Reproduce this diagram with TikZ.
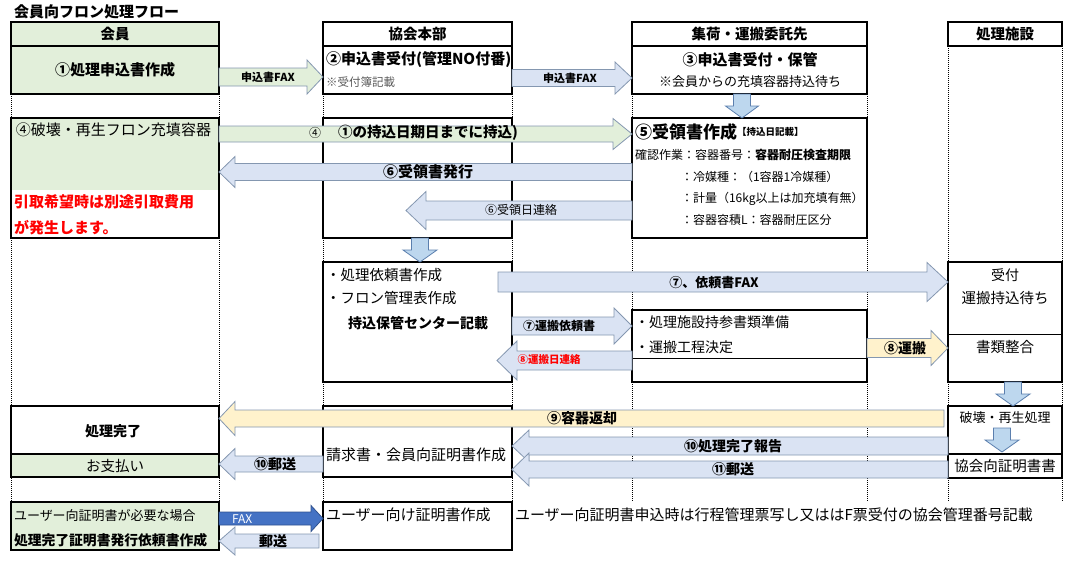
\documentclass[tikz,border=0pt]{standalone}
\usepackage{fontspec}
\setmainfont{Noto Sans CJK JP}
\usetikzlibrary{calc}
\definecolor{kgreen}{HTML}{E2EFDA}
\definecolor{ablue}{HTML}{DAE3F3}
\definecolor{aline}{HTML}{8497B0}
\definecolor{dblue}{HTML}{BDD7EE}
\definecolor{dline}{HTML}{5B7FAE}
\definecolor{ayellow}{HTML}{FFF2CC}
\definecolor{faxblue}{HTML}{4472C4}
\definecolor{faxline}{HTML}{2F528F}
\definecolor{warnred}{HTML}{FF0000}
\definecolor{notegray}{HTML}{595959}
\tikzset{
box/.style={draw, line width=1.6pt, inner sep=0pt, outer sep=0pt, anchor=north west},
lane/.style={line width=.8pt, dash pattern=on 1pt off 1pt},
sep/.style={line width=.8pt},
txt/.style={inner sep=0pt, outer sep=0pt},
barrow/.style={draw=aline, fill=ablue, line width=.8pt},
garrow/.style={barrow, fill=kgreen},
yarrow/.style={barrow, fill=ayellow},
darrow/.style={draw=dline, fill=dblue, line width=.8pt},
farrow/.style={draw=faxline, fill=faxblue, line width=.8pt}
}
\newcommand{\fsz}[1]{\fontsize{#1}{#1}\selectfont}
% box: name, x1, y1, x2, y2
\newcommand{\boxat}[6][]{\node[box,#1,minimum width={#5-#3},minimum height={#6-#4}] (#2) at (#3,#4) {};}
% block arrows: style, tail, tip, y (or x), body half, head half, head length
\newcommand{\hblk}[7]{\draw[#1] let \p1=(#2), \p2=(#3), \p3=(0,#4), \n1={ifthenelse(\x2>\x1,#7,-#7)} in
  (\x1,\y3+#5) -- (\x2-\n1,\y3+#5) -- (\x2-\n1,\y3+#6) -- (\x2,\y3) -- (\x2-\n1,\y3-#6) -- (\x2-\n1,\y3-#5) -- (\x1,\y3-#5) -- cycle;}
\newcommand{\vblk}[7]{\draw[#1] let \p1=(#2), \p2=(#3), \p3=(#4,0), \n1={ifthenelse(\y2>\y1,#7,-#7)} in
  (\x3+#5,\y1) -- (\x3+#5,\y2-\n1) -- (\x3+#6,\y2-\n1) -- (\x3,\y2) -- (\x3-#6,\y2-\n1) -- (\x3-#5,\y2-\n1) -- (\x3-#5,\y1) -- cycle;}

\begin{document}
\begin{tikzpicture}[x=1pt,y=-1pt]
\useasboundingbox (0,0) rectangle (1071,560);
\node[txt,anchor=west,font=\fsz{15}\bfseries] (title) at (14,12) {会員向フロン処理フロー};

% lane heads
\boxat[fill=kgreen]{kaiH}{11}{22}{219}{46}
\boxat{kyoH}{323}{22}{512}{46}
\boxat{shuH}{632}{22}{867}{46}
\boxat{shiH}{948}{22}{1062}{46}
\draw[lane] (kaiH.south west) -- ++(0,456) (kaiH.south east) -- ++(0,456)
  (kyoH.south west) -- ++(0,456) (kyoH.south east) -- ++(0,456)
  (shuH.south west) -- ++(0,456) (shuH.south east) -- ++(0,456)
  (shiH.south west) -- ++(0,456) (shiH.south east) -- ++(0,456);

% boxes
\fill[kgreen] (11,118) rectangle (219,190);
\fill[kgreen] (11,454) rectangle (219,477);
\boxat[fill=kgreen]{kai1}{11}{46}{219}{94}
\boxat{kai2}{11}{118}{219}{238}
\boxat{kai3}{11}{406}{219}{477}
\boxat[fill=kgreen]{kai4}{11}{502}{219}{550}
\boxat{kyo1}{323}{46}{512}{94}
\boxat{kyo2}{323}{118}{512}{238}
\boxat{kyo3}{323}{262}{512}{382}
\boxat{kyo4}{323}{406}{512}{477}
\boxat{kyo5}{323}{502}{512}{550}
\boxat{shu1}{632}{46}{867}{94}
\boxat{shu2}{632}{118}{867}{238}
\boxat{shu3}{632}{310}{867}{382}
\boxat{shi1}{948}{262}{1062}{382}
\boxat{shi2}{948}{406}{1062}{478}
\draw[sep] ($(shu3.north west)+(0,48)$) -- ($(shu3.north east)+(0,48)$);
\draw[sep] ($(shi1.north west)+(0,72)$) -- ($(shi1.north east)+(0,72)$);
\draw[box] ($(shi2.north west)+(0,48)$) -- ($(shi2.north east)+(0,48)$);
\draw[box] ($(kai3.north west)+(0,48)$) -- ($(kai3.north east)+(0,48)$);

% arrows
\coordinate (jrtip) at (406,210);
\coordinate (iraitail) at (498,282);
\coordinate (unptip) at (497,360);
\coordinate (hentail) at (944,418);
\coordinate (yuutail) at (319,541);
\coordinate (dtop) at (1002,428);
\coordinate (dbot) at (1002,452);
\hblk{garrow}{kai1.east}{kyo1.west}{77}{9}{17}{16}
\hblk{barrow}{kyo1.east}{shu1.west}{78}{8.5}{16}{17}
\hblk{garrow}{kai2.east}{shu2.west}{134}{8}{15.5}{19}
\hblk{barrow}{shu2.west}{kai2.east}{172}{8.5}{15.5}{16}
\hblk{barrow}{shu2.west}{jrtip}{210.5}{9.5}{19}{20}
\hblk{barrow}{iraitail}{shi1.west}{282}{10}{19.5}{21}
\hblk{barrow}{kyo3.east}{shu3.west}{326}{9}{18}{18}
\hblk{barrow}{shu3.west}{unptip}{360.5}{9.5}{19.5}{20}
\hblk{yarrow}{shu3.east}{shi1.west}{348}{9.5}{17.5}{17}
\hblk{yarrow}{hentail}{kai3.east}{418.5}{8.5}{17}{16}
\hblk{barrow}{shi2.west}{kyo4.east}{446}{9}{16}{17}
\hblk{barrow}{shi2.west}{kyo4.east}{469.5}{8.5}{16.5}{17}
\hblk{barrow}{kyo4.west}{kai3.east}{464}{8}{15.5}{16}
\hblk{farrow}{kai4.east}{kyo5.west}{518.5}{6.5}{13}{12}
\hblk{barrow}{yuutail}{kai4.east}{541}{7}{14}{16}
\vblk{darrow}{shu1.south}{shu2.north}{742}{8.5}{16.5}{12}
\vblk{darrow}{kyo2.south}{kyo3.north}{420}{8.5}{17}{12}
\vblk{darrow}{shi1.south}{shi2.north}{1013}{8.5}{17}{12}
\vblk{darrow}{dtop}{dbot}{1002}{8.5}{17}{12}

% texts
\node[txt,font=\fsz{14.5}\bfseries] (kaiHt) at (kaiH) {会員};
\node[txt,font=\fsz{14.5}\bfseries] (kyoHt) at (kyoH) {協会本部};
\node[txt,font=\fsz{14.5}\bfseries] (shuHt) at (shuH) {集荷・運搬委託先};
\node[txt,font=\fsz{14.5}\bfseries] (shiHt) at (shiH) {処理施設};
\node[txt,font=\fsz{15}\bfseries] (kai1t) at (kai1) {①処理申込書作成};
\node[txt,font=\fsz{11}\bfseries] (fax1) at (268,77) {申込書FAX};
\node[txt,anchor=west,font=\fsz{15}\bfseries] (kyo1a) at (326,60) {②申込書受付(管理NO付番)};
\node[txt,anchor=west,font=\fsz{11.5},text=notegray] (kyo1b) at (326,82) {※受付簿記載};
\node[txt,font=\fsz{11}\bfseries] (fax2) at (570,78) {申込書FAX};
\node[txt,font=\fsz{15}\bfseries] (shu1a) at (750,60) {③申込書受付・保管};
\node[txt,font=\fsz{13}] (shu1b) at (750,82) {※会員からの充填容器持込待ち};
\node[txt,anchor=west,font=\fsz{15}] (kai2a) at (16,130) {④破壊・再生フロン充填容器};
\node[txt,anchor=west,font=\fsz{15}\bfseries,text=warnred] (kai2b) at (14,202) {引取希望時は別途引取費用};
\node[txt,anchor=west,font=\fsz{15}\bfseries,text=warnred] (kai2c) at (14,228) {が発生します。};
\node[txt,anchor=west] (mochikomi) at (309,133) {\fsz{12}④\hspace{17pt}\fsz{14.5}\bfseries ①の持込日期日までに持込)};
\node[txt,anchor=west,font=\fsz{17}\bfseries] (shu2a) at (635,132) {⑤受領書作成};
\node[txt,anchor=west,font=\fsz{9.5}\bfseries] (shu2k) at (shu2a.east) {【持込日記載】};
\node[txt,anchor=west,font=\fsz{12}] (shu2b) at (635,155) {確認作業：容器番号：\textbf{容器耐圧検査期限}};
\node[txt,anchor=west,font=\fsz{12}] (shu2c) at (681,177) {：冷媒種：（1容器1冷媒種）};
\node[txt,anchor=west,font=\fsz{12}] (shu2d) at (681,199) {：計量（16kg以上は加充填有無）};
\node[txt,anchor=west,font=\fsz{12}] (shu2e) at (681,220) {：容器容積L：容器耐圧区分};
\node[txt,font=\fsz{15}\bfseries] (juryo) at (428,172) {⑥受領書発行};
\node[txt,font=\fsz{12}] (juryobi) at (521,210) {⑥受領日連絡};
\node[txt,anchor=west,font=\fsz{14.5}] (kyo3a) at (326,275) {・処理依頼書作成};
\node[txt,anchor=west,font=\fsz{14.5}] (kyo3b) at (326,298) {・フロン管理表作成};
\node[txt,font=\fsz{14}\bfseries] (kyo3c) at (418,323) {持込保管センター記載};
\node[txt,font=\fsz{13}\bfseries] (irai) at (714,283) {⑦、依頼書FAX};
\node[txt,font=\fsz{12}\bfseries] (unpan) at (559,326) {⑦運搬依頼書};
\node[txt,font=\fsz{10.5}\bfseries,text=warnred] (unpanbi) at (549,360) {⑧運搬日連絡};
\node[txt,anchor=west,font=\fsz{14}] (shu3a) at (635,322) {・処理施設持参書類準備};
\node[txt,anchor=west,font=\fsz{14}] (shu3b) at (635,347) {・運搬工程決定};
\node[txt,font=\fsz{14}\bfseries] (hakobi) at (905,348) {⑧運搬};
\node[txt,font=\fsz{14}] (shi1a) at (1005,275) {受付};
\node[txt,font=\fsz{14.5}] (shi1b) at (1005,298) {運搬持込待ち};
\node[txt,font=\fsz{14.5}] (shi1c) at (1005,347) {書類整合};
\node[txt,font=\fsz{14}\bfseries] (henkyaku) at (582,418) {⑨容器返却};
\node[txt,font=\fsz{14}\bfseries] (kai3a) at (113,431) {処理完了};
\node[txt,font=\fsz{14.5}] (kai3b) at (115,466) {お支払い};
\node[txt,font=\fsz{14}\bfseries] (yuso1) at (275,464) {⑩郵送};
\node[txt,anchor=west,font=\fsz{15}] (kyo4a) at (326,455) {請求書・会員向証明書作成};
\node[txt,font=\fsz{14}\bfseries] (hokoku) at (733,446) {⑩処理完了報告};
\node[txt,font=\fsz{14}\bfseries] (yuso2) at (733,469) {⑪郵送};
\node[txt,font=\fsz{13}] (shi2a) at (1005,418) {破壊・再生処理};
\node[txt,font=\fsz{14.5}] (shi2b) at (1005,466) {協会向証明書書};
\node[txt,anchor=west,font=\fsz{13}] (kai4a) at (14,516) {ユーザー向証明書が必要な場合};
\node[txt,anchor=west,font=\fsz{13.8}\bfseries] (kai4b) at (14,540) {処理完了証明書発行依頼書作成};
\node[txt,anchor=west,font=\fsz{12},text=white] (fax3) at (232,519) {FAX};
\node[txt,font=\fsz{14}\bfseries] (yuso3) at (273,541) {郵送};
\node[txt,anchor=west,font=\fsz{15}] (kyo5a) at (326,515) {ユーザー向け証明書作成};
\node[txt,anchor=west,font=\fsz{15}] (note) at (515,515) {ユーザー向証明書申込時は行程管理票写し又ははF票受付の協会管理番号記載};
\end{tikzpicture}
\end{document}
